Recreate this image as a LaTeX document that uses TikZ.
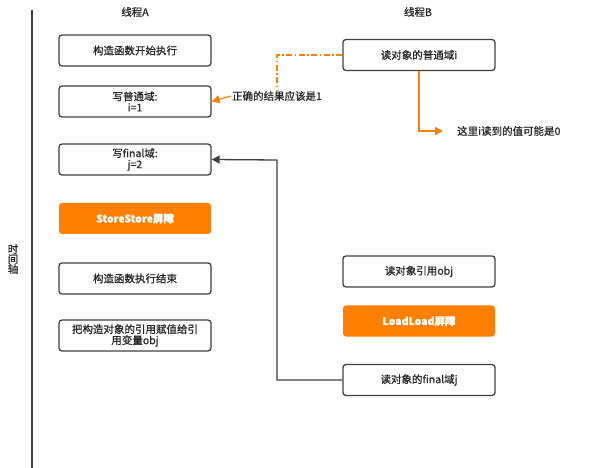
\documentclass[tikz,border=0pt]{standalone}
\usepackage{fontspec}
\newfontfamily\cjk[FakeBold=0.8]{Noto Sans CJK SC}
\newfontfamily\cjkb{Noto Sans CJK SC Bold}
\usetikzlibrary{arrows.meta}
\definecolor{boxline}{HTML}{404040}
\definecolor{orng}{HTML}{FF8000}
\tikzset{
  stepbox/.style={draw=boxline, line width=1.3pt, rounded corners=3pt, minimum width=152pt, minimum height=31pt, align=center, inner sep=1pt, font=\cjk\fontsize{10.5}{13}\selectfont, text=black!85},
  barrier/.style={fill=orng, rounded corners=3pt, minimum width=152pt, minimum height=31pt, align=center, font=\cjk\bfseries\fontsize{10.5}{13}\selectfont, text=white},
  lbl/.style={font=\cjk\fontsize{10.5}{12}\selectfont, text=black!85, inner sep=1pt},
  head/.style={font=\cjk\fontsize{10.5}{12}\selectfont, text=black!85},
}
\begin{document}
\begin{tikzpicture}[x=1pt,y=-1pt]
\useasboundingbox (0,0) rectangle (598,468);
\draw[line width=1.2pt, boxline] (32,10) -- (32,468);
\node[head, align=center, inner sep=0pt] (axis) at (13,259) {时\\[-2pt]间\\[-2pt]轴};
\node[head] (ta) at (135,12) {线程A};
\node[head] (tb) at (418,12) {线程B};

\node[stepbox] (a1) at (135,50.5) {构造函数开始执行};
\node[stepbox] (a2) at (135,101.5) {写普通域:\\[-2pt]i=1};
\node[stepbox] (a3) at (135,159.5) {写final域:\\[-2pt]j=2};
\node[barrier] (ss) at (135,218.5) {StoreStore屏障};
\node[stepbox] (a5) at (135,278.5) {构造函数执行结束};
\node[stepbox] (a6) at (135,335.5) {把构造对象的引用赋值给引\\[-2pt]用变量obj};

\node[stepbox] (b1) at (419,55) {读对象的普通域i};
\node[stepbox] (b2) at (419,271.5) {读对象引用obj};
\node[barrier] (ll) at (419,321) {LoadLoad屏障};
\node[stepbox] (b4) at (419,380) {读对象的final域j};

\node[lbl] (l1) at (277,96) {正确的结果应该是1};
\node[lbl, anchor=west] (l2) at (456,131) {这里i读到的值可能是0};
\coordinate (c2) at (443,131);
\coordinate (bend) at (277,160);

\draw[orng, line width=1.2pt, dash pattern=on 6pt off 2.5pt on 1.5pt off 2.5pt] (b1.west) -| (l1.north);
\draw[orng, line width=1.2pt, -{Triangle[length=8pt,width=8pt]}] (l1.west) -- (a2.east);
\draw[orng, line width=1.3pt, -{Triangle[length=8pt,width=8pt]}] (b1.south) |- (c2);
\draw[boxline, line width=1.3pt, -{Triangle[length=8pt,width=8pt]}] (b4.west) -| (bend) -- (a3.east);
\end{tikzpicture}
\end{document}
